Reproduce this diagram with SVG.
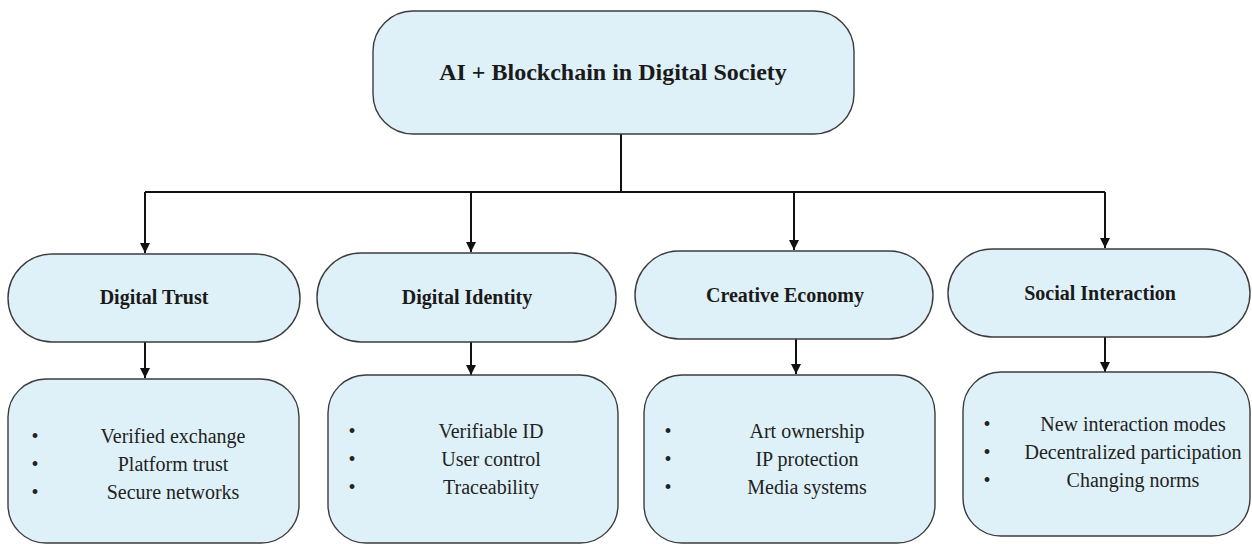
<svg xmlns="http://www.w3.org/2000/svg" width="1252" height="544" viewBox="0 0 1252 544">
<defs>
<style>
.box{fill:#dff1f8;stroke:#3c3c3c;stroke-width:1.4}
text{font-family:'Liberation Serif','Times New Roman',Tinos,'DejaVu Serif',serif}
.title{font-weight:bold;fill:#1a1a1a;text-anchor:middle}
.body{font-size:20px;fill:#222;text-anchor:middle}
.bul{font-size:20px;fill:#222;text-anchor:middle}
.con{fill:none;stroke:#111;stroke-width:2}
</style>
<marker id="ah" viewBox="0 0 10 10" refX="10" refY="5" markerWidth="10" markerHeight="10" markerUnits="userSpaceOnUse" orient="auto">
<path d="M0,0 L10,5 L0,10 Z" fill="#111"/>
</marker>
</defs>
<rect width="1252" height="544" fill="#fff"/>
<g id="connectors">
<path class="con" d="M621,134 V192"/>
<path class="con" d="M145,192 H1105"/>
<path class="con" d="M145,192 V253" marker-end="url(#ah)"/>
<path class="con" d="M471,192 V252" marker-end="url(#ah)"/>
<path class="con" d="M794,192 V250" marker-end="url(#ah)"/>
<path class="con" d="M1105,192 V248" marker-end="url(#ah)"/>
<path class="con" d="M145,342 V378" marker-end="url(#ah)"/>
<path class="con" d="M471,342 V375" marker-end="url(#ah)"/>
<path class="con" d="M796,339 V374" marker-end="url(#ah)"/>
<path class="con" d="M1105,337 V372" marker-end="url(#ah)"/>
</g>
<g id="root">
<rect class="box" x="373" y="11" width="481" height="123" rx="40"/>
<text class="title" x="613" y="80" font-size="24" font-family="Liberation Serif, serif">AI + Blockchain in Digital Society</text>
</g>
<g id="digital-trust">
<rect class="box" x="8" y="254" width="292" height="88" rx="44"/>
<text class="title" x="154" y="304" font-size="20" font-family="Liberation Serif, serif">Digital Trust</text>
</g>
<g id="digital-identity">
<rect class="box" x="317" y="253" width="299" height="89" rx="44"/>
<text class="title" x="467" y="304" font-size="20" font-family="Liberation Serif, serif">Digital Identity</text>
</g>
<g id="creative-economy">
<rect class="box" x="635" y="251" width="298" height="88" rx="44"/>
<text class="title" x="785" y="302" font-size="20" font-family="Liberation Serif, serif">Creative Economy</text>
</g>
<g id="social-interaction">
<rect class="box" x="948" y="249" width="302" height="88" rx="44"/>
<text class="title" x="1100" y="300" font-size="20" font-family="Liberation Serif, serif">Social Interaction</text>
</g>
<g id="trust-details" font-family="Liberation Serif, serif">
<rect class="box" x="8" y="379" width="291" height="164" rx="38"/>
<text class="bul" x="35" y="443">•</text><text class="body" x="173" y="443">Verified exchange</text>
<text class="bul" x="35" y="471">•</text><text class="body" x="173" y="471">Platform trust</text>
<text class="bul" x="35" y="499">•</text><text class="body" x="173" y="499">Secure networks</text>
</g>
<g id="identity-details" font-family="Liberation Serif, serif">
<rect class="box" x="328" y="375" width="290" height="168" rx="38"/>
<text class="bul" x="352" y="438">•</text><text class="body" x="491" y="438">Verifiable ID</text>
<text class="bul" x="352" y="466">•</text><text class="body" x="491" y="466">User control</text>
<text class="bul" x="352" y="494">•</text><text class="body" x="491" y="494">Traceability</text>
</g>
<g id="creative-details" font-family="Liberation Serif, serif">
<rect class="box" x="644" y="375" width="291" height="168" rx="38"/>
<text class="bul" x="668" y="438">•</text><text class="body" x="807" y="438">Art ownership</text>
<text class="bul" x="668" y="466">•</text><text class="body" x="807" y="466">IP protection</text>
<text class="bul" x="668" y="494">•</text><text class="body" x="807" y="494">Media systems</text>
</g>
<g id="social-details" font-family="Liberation Serif, serif">
<rect class="box" x="963" y="372" width="287" height="164" rx="38"/>
<text class="bul" x="987" y="431">•</text><text class="body" x="1133" y="431">New interaction modes</text>
<text class="bul" x="987" y="459">•</text><text class="body" x="1133" y="459">Decentralized participation</text>
<text class="bul" x="987" y="487">•</text><text class="body" x="1133" y="487">Changing norms</text>
</g>
</svg>
